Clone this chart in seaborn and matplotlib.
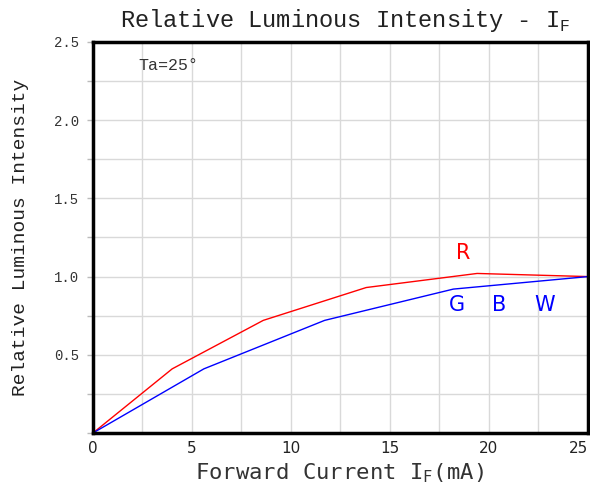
import matplotlib
matplotlib.use("Agg")
import matplotlib.pyplot as plt
import seaborn as sns
import pandas as pd
import numpy as np

# Data
red_current = [0, 4.0, 8.6, 13.8, 19.4, 25]
red_intensity = [0, 0.41, 0.72, 0.93, 1.02, 1.00]
blue_current = [0, 5.6, 11.7, 18.2, 25]
blue_intensity = [0, 0.41, 0.72, 0.92, 1.00]
x_ticks = [0, 5, 10, 15, 20, 25]
y_ticks = [0.5, 1.0, 1.5, 2.0, 2.5]

df = pd.concat([
    pd.DataFrame({"If": red_current, "Iv": red_intensity, "series": "R"}),
    pd.DataFrame({"If": blue_current, "Iv": blue_intensity, "series": "GBW"}),
])

sns.set_theme(style="white")
plt.rcParams['font.family'] = ['DejaVu Sans']

fig = plt.figure(figsize=(5.9, 4.86), dpi=100)
ax = fig.add_axes([0.1576, 0.1091, 0.839, 0.8045])

sns.lineplot(data=df, x="If", y="Iv", hue="series", palette={"R": "#ff0000", "GBW": "#0000ff"},
             linewidth=1.0, legend=False, ax=ax, sort=False)

ax.set_xlim(0, 25)
ax.set_ylim(0, 2.5)
ax.set_xticks(x_ticks)
ax.set_xticks(np.arange(0, 25.01, 2.5), minor=True)
ax.set_yticks(y_ticks)
ax.set_yticks(np.arange(0, 2.51, 0.25), minor=True)
ax.grid(True, which="both", color="#d9d9d9", linewidth=1.0)
ax.set_axisbelow(True)

xl = ax.set_xticklabels([str(v) for v in x_ticks], fontsize=11, family="DejaVu Sans", color="#222222")
xl[-1].set_horizontalalignment("right")
ax.set_yticklabels([f"{v:.1f}" for v in y_ticks], fontsize=10, family="Liberation Mono", color="#333333")
ax.tick_params(axis="y", which="both", length=4, color="#bbbbbb", width=1, direction="out", pad=6, left=True)
ax.tick_params(axis="x", which="both", length=0, pad=6)

for s in ax.spines.values():
    s.set_visible(True)
    s.set_color("black")
    s.set_linewidth(2.5)

ax.set_xlabel("")
ax.set_ylabel("Relative Luminous Intensity", fontsize=14, family="Liberation Mono",
              color="#222222", labelpad=18)
fig.text(0.575, 0.002, "Forward Current I$_{\\mathregular{F}}$(mA)", ha="center", va="bottom",
         fontsize=16, family="DejaVu Sans Mono", color="#333333")
fig.text(0.585, 0.958, "Relative Luminous Intensity - I$_{\\mathregular{F}}$", ha="center", va="center",
         fontsize=17, family="Liberation Mono", color="#222222")

ax.text(3.8, 2.35, "Ta=25°", fontsize=12, family="Liberation Mono", color="#333333", ha="center", va="center")
ax.text(18.7, 1.15, "R", fontsize=15, color="#ff0000", ha="center", va="center")
ax.text(18.4, 0.82, "G", fontsize=15, color="#0000ff", ha="center", va="center")
ax.text(20.5, 0.82, "B", fontsize=15, color="#0000ff", ha="center", va="center")
ax.text(22.8, 0.82, "W", fontsize=15, color="#0000ff", ha="center", va="center")

fig.savefig("out.png", dpi=100)
